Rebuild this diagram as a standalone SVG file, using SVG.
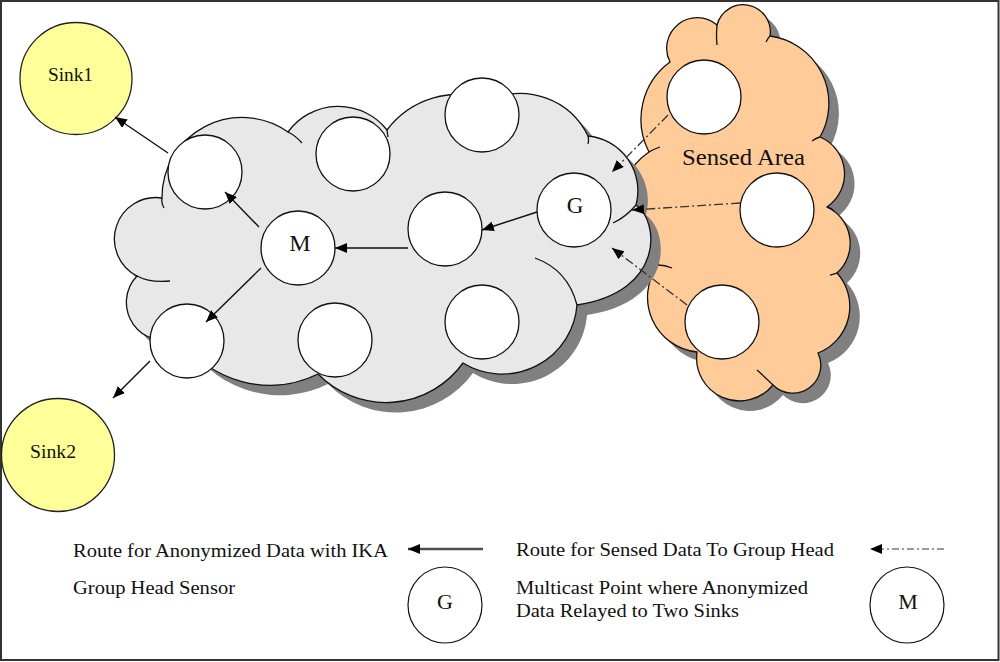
<svg xmlns="http://www.w3.org/2000/svg" width="1000" height="662" viewBox="0 0 1000 662">
<style>
text{font-family:'Liberation Serif','Times New Roman','DejaVu Serif','Noto Serif',Tinos,serif;fill:#111;}
.node{fill:#fff;stroke:#111;stroke-width:1.3;}
.sink{fill:#ffff99;stroke:#222;stroke-width:1.3;}
.cl{stroke:#111;stroke-width:1.3;}
.stub{fill:none;stroke:#111;stroke-width:1.3;}
.sh{fill:#808080;}
.solid{stroke:#111;stroke-width:1.4;fill:none;marker-end:url(#ah);}
.dd{stroke:#333;stroke-width:1.3;fill:none;stroke-dasharray:9 3 2 3;marker-end:url(#ah);}
</style>
<defs>
<marker id="ah" markerUnits="userSpaceOnUse" markerWidth="12" markerHeight="10" refX="12" refY="5" orient="auto">
<path d="M0,0 L12,5 L0,10 z" fill="#000"/>
</marker>
<path id="grayCloud" d="M162,198 A80,80 0 0 1 288,132 A62,62 0 0 1 387,130 A90,90 0 0 1 490,100 A75,75 0 0 1 588,136 A55,55 0 0 1 636,205 C660,222 664,292 577,305 A75,75 0 0 1 463,363 A95,95 0 0 1 318,374 A108,108 0 0 1 180,337 A38,38 0 0 1 137,276 A41.5,41.5 0 0 1 162,198 Z"/>
<path id="orangeCloud" d="M670,62 A30.5,30.5 0 0 1 717,25 A27.1,27.1 0 0 1 770,36 A68,68 0 0 1 820,137 A40,40 0 0 1 827,207 A40,40 0 0 1 837,273 A50,50 0 0 1 818,353 A28,28 0 0 1 773,385 A43,43 0 0 1 697,352 A55,55 0 0 1 658,265 A65,65 0 0 1 649,152 A71,71 0 0 1 670,62 Z"/>
</defs>
<rect x="1" y="1" width="997.5" height="659" fill="#fff" stroke="#333" stroke-width="2"/>

<g id="sensed-area">
<use href="#orangeCloud" class="sh" transform="translate(10,10)"/>
<use href="#orangeCloud" class="cl" fill="#ffcc99"/>
<path class="stub" d="M717,25 Q716,36 717,45 M770,36 Q768,38 766,42 M820,137 Q816,138 812,141 M827,207 Q831,208 834,211 M837,273 L830,275 M773,385 Q766,378 757,370 M658,265 Q665,265 672,268 M649,152 Q654,149 660,147"/>
<text x="682" y="165" font-size="24" textLength="123" lengthAdjust="spacingAndGlyphs">Sensed Area</text>
</g>

<g id="network-cloud">
<use href="#grayCloud" class="sh" transform="translate(10,10)"/>
<use href="#grayCloud" class="cl" fill="#e8e8e8"/>
<path class="stub" d="M162,198 Q161,203 164,208 M137,276 Q150,283 170,281 M288,132 Q296,136 302,143 M387,130 L388,137 M588,136 Q589,140 588,144 M636,205 Q626,217 613,223 M577,305 Q568,270 535,258"/>
</g>

<g id="node-sink1">
<circle class="sink" cx="76" cy="78.5" r="56"/>
<text x="48" y="81" font-size="19" textLength="45" lengthAdjust="spacingAndGlyphs">Sink1</text>
</g>
<g id="node-sink2">
<circle class="sink" cx="58" cy="455" r="56.5"/>
<text x="30" y="458" font-size="19" textLength="46" lengthAdjust="spacingAndGlyphs">Sink2</text>
</g>
<g id="node-n1"><circle class="node" cx="205" cy="172" r="37"/></g>
<g id="node-n2"><circle class="node" cx="353" cy="154" r="37"/></g>
<g id="node-n3"><circle class="node" cx="482" cy="115" r="37"/></g>
<g id="node-m">
<circle class="node" cx="298" cy="248" r="37"/>
<text x="300" y="251" font-size="24" text-anchor="middle">M</text>
</g>
<g id="node-n4"><circle class="node" cx="445" cy="229" r="37"/></g>
<g id="node-g">
<circle class="node" cx="574" cy="210" r="37"/>
<text x="575" y="213" font-size="23" text-anchor="middle">G</text>
</g>
<g id="node-n5"><circle class="node" cx="187" cy="341" r="37"/></g>
<g id="node-n6"><circle class="node" cx="335" cy="340" r="37"/></g>
<g id="node-n7"><circle class="node" cx="482" cy="322" r="37"/></g>
<g id="node-s1"><circle class="node" cx="704" cy="97" r="37"/></g>
<g id="node-s2"><circle class="node" cx="777" cy="210" r="37"/></g>
<g id="node-s3"><circle class="node" cx="722" cy="322" r="37"/></g>

<g id="connectors">
<line class="solid" x1="168" y1="153" x2="115" y2="117"/>
<line class="solid" x1="259" y1="227" x2="225" y2="192"/>
<line class="solid" x1="408" y1="248" x2="335" y2="248"/>
<line class="solid" x1="537" y1="212" x2="482" y2="230"/>
<line class="solid" x1="261" y1="268" x2="206" y2="322"/>
<line class="solid" x1="150" y1="361" x2="113" y2="398"/>
<line class="dd" x1="668" y1="115" x2="612" y2="172"/>
<line class="dd" x1="740" y1="203" x2="632" y2="210"/>
<line class="dd" x1="687" y1="305" x2="612" y2="248"/>
</g>

<g id="legend">
<text x="73" y="557" font-size="19.5" textLength="315" lengthAdjust="spacingAndGlyphs">Route for Anonymized Data with IKA</text>
<line x1="483" y1="549" x2="408" y2="549" stroke="#4d4d4d" stroke-width="2.5" marker-end="url(#ah)"/>
<text x="516" y="556" font-size="19.5" textLength="318" lengthAdjust="spacingAndGlyphs">Route for Sensed Data To Group Head</text>
<line x1="944" y1="549" x2="870" y2="549" stroke="#999" stroke-width="2" stroke-dasharray="7 3 2 3" marker-end="url(#ah)"/>
<text x="73" y="594" font-size="19.5" textLength="162" lengthAdjust="spacingAndGlyphs">Group Head Sensor</text>
<g id="legend-g">
<ellipse cx="445" cy="605" rx="37" ry="38" fill="#fff" stroke="#111" stroke-width="1.2"/>
<text x="445" y="609" font-size="22" text-anchor="middle">G</text>
</g>
<text x="516" y="594" font-size="19.5" textLength="292" lengthAdjust="spacingAndGlyphs">Multicast Point where Anonymized</text>
<text x="516" y="617" font-size="19.5" textLength="223" lengthAdjust="spacingAndGlyphs">Data Relayed to Two Sinks</text>
<g id="legend-m">
<ellipse cx="907" cy="605" rx="37" ry="38" fill="#fff" stroke="#111" stroke-width="1.2"/>
<text x="908" y="609" font-size="22" text-anchor="middle">M</text>
</g>
</g>
</svg>
